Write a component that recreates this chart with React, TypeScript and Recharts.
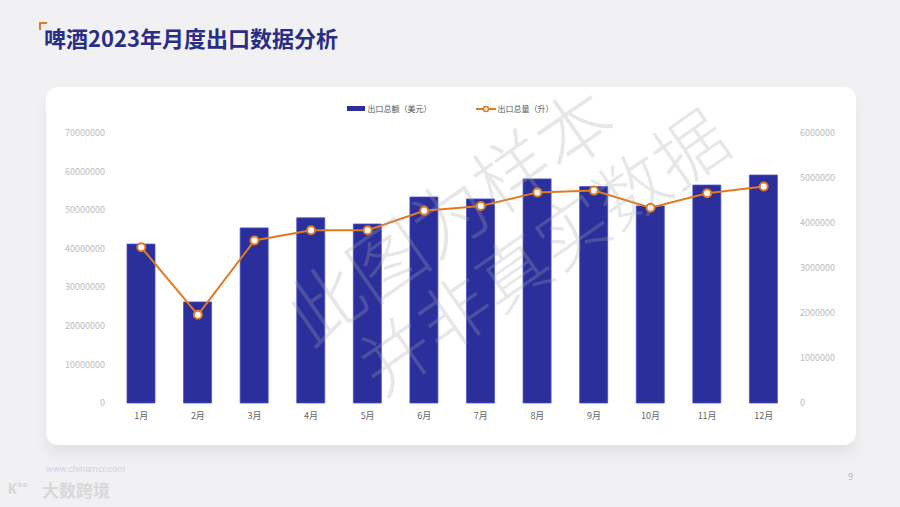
import React from "react";
import { ComposedChart, Bar, Line, XAxis, YAxis } from "recharts";

const months = ["1月", "2月", "3月", "4月", "5月", "6月", "7月", "8月", "9月", "10月", "11月", "12月"];
// 出口总额（美元）
const exportValue = [41200000, 26200000, 45400000, 48000000, 46400000, 53400000, 52900000, 58100000, 56100000, 51100000, 56500000, 59100000];
// 出口总量（升）
const exportVolume = [3460000, 1960000, 3610000, 3840000, 3840000, 4270000, 4380000, 4680000, 4720000, 4340000, 4660000, 4810000];

const leftTicks = [0, 10000000, 20000000, 30000000, 40000000, 50000000, 60000000, 70000000];
const rightTicks = [0, 1000000, 2000000, 3000000, 4000000, 5000000, 6000000];

const chartData = months.map((month, i) => ({
  month,
  value: exportValue[i],
  volume: exportVolume[i],
}));

const FONT = '"Noto Sans CJK SC", "Noto Sans", sans-serif';
const NAVY = "#2b2f9c";
const ORANGE = "#e27a22";

function ChartLegend() {
  return (
    <div
      style={{
        position: "absolute",
        left: 0,
        top: 103,
        width: 900,
        display: "flex",
        justifyContent: "center",
        alignItems: "center",
        fontSize: 8,
        color: "#555",
        fontFamily: FONT,
      }}
    >
      <span style={{ display: "inline-block", width: 18, height: 5, background: NAVY, marginRight: 3 }} />
      <span style={{ marginRight: 44 }}>出口总额（美元）</span>
      <svg width={20} height={8} style={{ marginRight: 2 }}>
        <line x1={0} y1={4} x2={20} y2={4} stroke={ORANGE} strokeWidth={2} />
        <circle cx={10} cy={4} r={2.5} fill="#fff" stroke={ORANGE} strokeWidth={1.5} />
      </svg>
      <span>出口总量（升）</span>
    </div>
  );
}

export default function App() {
  return (
    <div style={{ position: "fixed", left: 0, top: 0, width: 900, height: 507, background: "#f1f1f3", overflow: "hidden", fontFamily: FONT }}>
      <div style={{ position: "absolute", left: 39, top: 22, width: 6, height: 6, borderLeft: `2px solid ${ORANGE}`, borderTop: `2px solid ${ORANGE}` }} />
      <div style={{ position: "absolute", left: 44, top: 21, fontSize: 22, fontWeight: 700, color: "#2a2d86" }}>
        啤酒2023年月度出口数据分析
      </div>
      <div
        style={{
          position: "absolute",
          left: 46,
          top: 87,
          width: 810,
          height: 358,
          background: "#fff",
          borderRadius: 12,
          boxShadow: "0 10px 14px rgba(0,0,0,0.06)",
        }}
      />
      <ChartLegend />
      <div style={{ position: "absolute", left: 0, top: 0 }}>
        <ComposedChart width={900} height={507} data={chartData} margin={{ top: 133, right: 0, bottom: 74, left: 0 }}>
          <XAxis
            dataKey="month"
            axisLine={false}
            tickLine={false}
            tickMargin={4}
            height={30}
            interval={0}
            tick={{ fontSize: 9, fill: "#666", fontFamily: FONT }}
          />
          <YAxis
            yAxisId="left"
            orientation="left"
            width={113}
            domain={[0, 70000000]}
            ticks={leftTicks}
            axisLine={false}
            tickLine={false}
            tick={{ fontSize: 9, fill: "#bcbcbc", fontFamily: FONT }}
          />
          <YAxis
            yAxisId="right"
            orientation="right"
            width={108}
            domain={[0, 6000000]}
            ticks={rightTicks}
            axisLine={false}
            tickLine={false}
            tick={{ fontSize: 9, fill: "#bcbcbc", fontFamily: FONT }}
          />
          <Bar yAxisId="left" dataKey="value" barSize={28} fill={NAVY} stroke="#4a52c4" strokeWidth={0.8} isAnimationActive={false} />
          <Line
            yAxisId="right"
            dataKey="volume"
            type="linear"
            stroke={ORANGE}
            strokeWidth={2}
            dot={{ r: 4, fill: "#fff", stroke: ORANGE, strokeWidth: 2 }}
            activeDot={false}
            isAnimationActive={false}
          />
        </ComposedChart>
      </div>
      <div style={{ position: "absolute", left: 250, top: 162, width: 440, transform: "rotate(-35deg)", transformOrigin: "center", pointerEvents: "none" }}>
        <div style={{ fontSize: 76, lineHeight: "86px", color: "rgba(170,170,170,0.28)", whiteSpace: "nowrap", textAlign: "center", fontWeight: 300 }}>
          此图为样本
        </div>
        <div style={{ fontSize: 72, lineHeight: "80px", color: "rgba(170,170,170,0.28)", whiteSpace: "nowrap", textAlign: "center", fontWeight: 300, marginLeft: 60 }}>
          并非真实数据
        </div>
      </div>
      <div style={{ position: "absolute", left: 46, top: 465, fontSize: 9, lineHeight: "9px", color: "#cfd0ea", fontFamily: "Roboto, sans-serif" }}>
        www.chinamcr.com
      </div>
      <div style={{ position: "absolute", left: 8, top: 482, fontSize: 14, lineHeight: "14px", color: "#d6d6d6", fontWeight: 700, fontFamily: "Roboto, sans-serif" }}>
        K°°
      </div>
      <div style={{ position: "absolute", left: 42, top: 481, fontSize: 17, lineHeight: "17px", color: "#d8d8d8", fontWeight: 700 }}>
        大数跨境
      </div>
      <div style={{ position: "absolute", left: 848, top: 470, fontSize: 9, color: "#b5b5b5" }}>9</div>
    </div>
  );
}
